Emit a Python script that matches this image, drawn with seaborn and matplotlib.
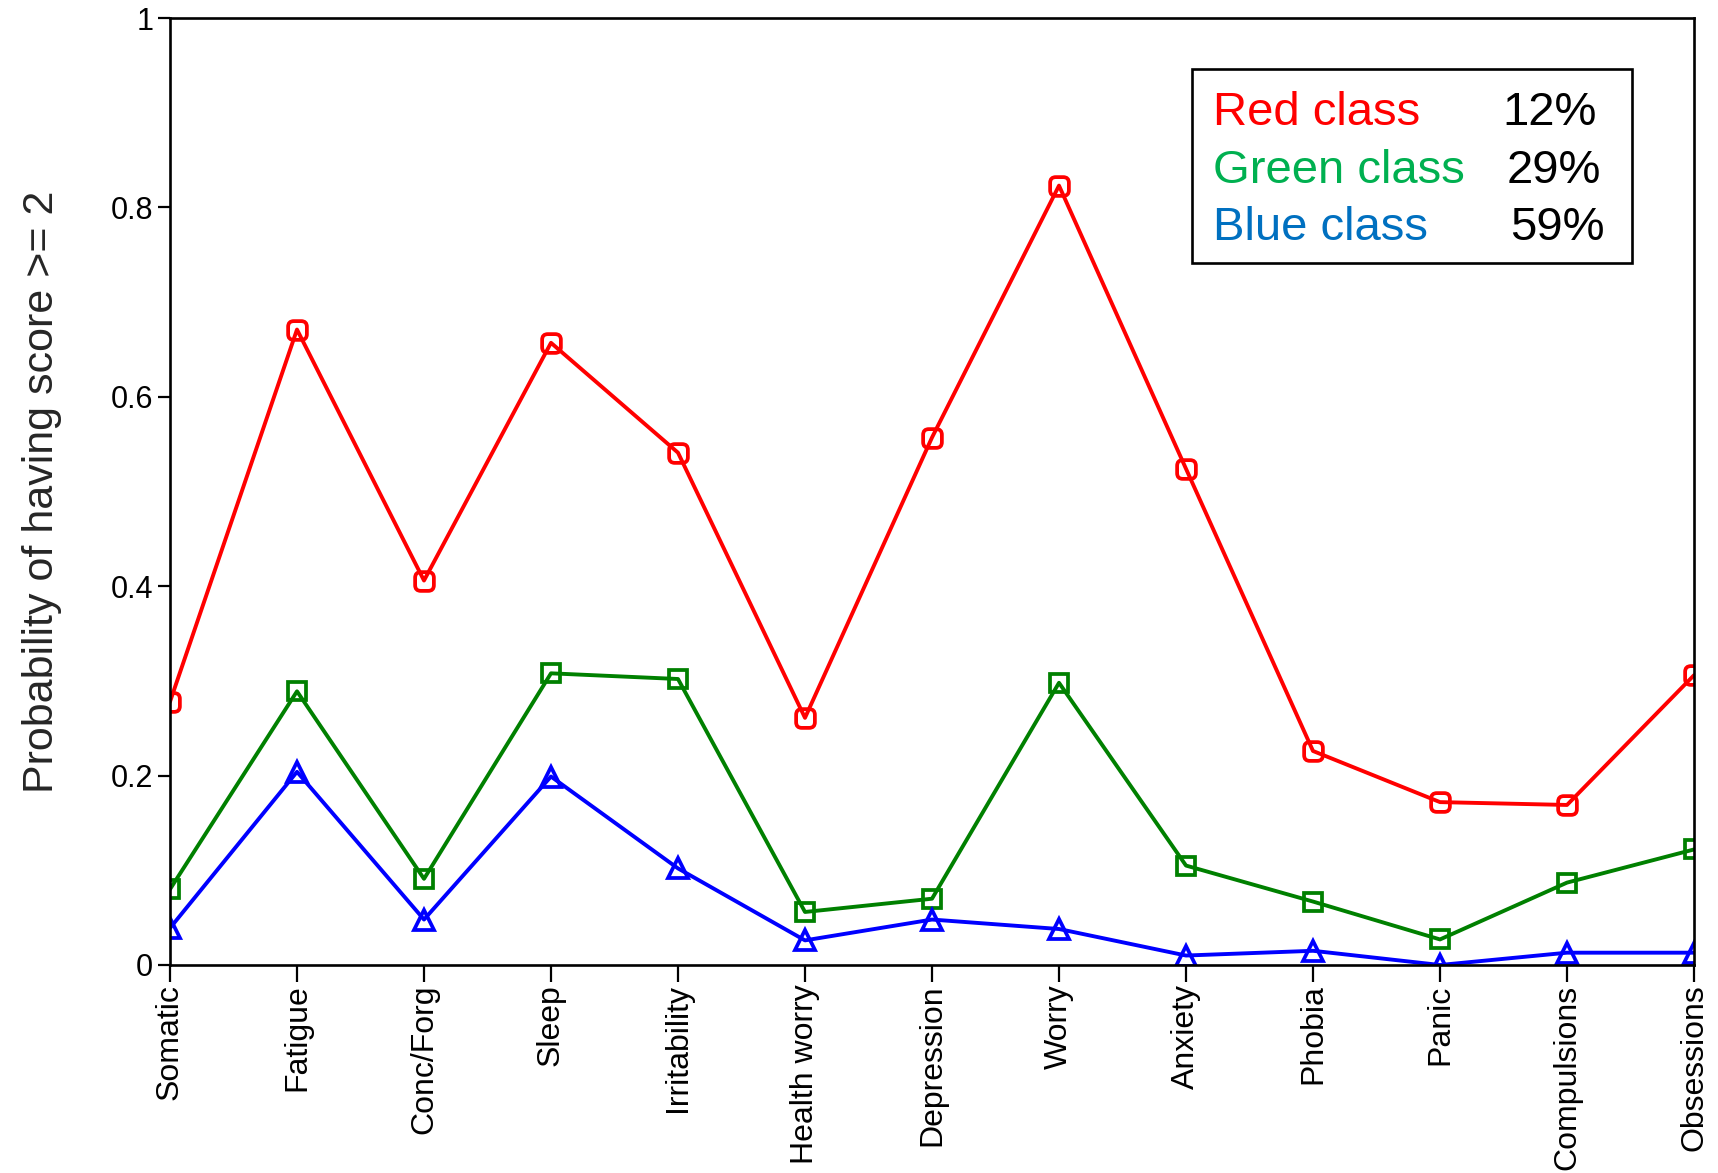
import matplotlib
matplotlib.use("Agg")
import numpy as np
import pandas as pd
import seaborn as sns
import matplotlib.pyplot as plt
from matplotlib.path import Path
from matplotlib.patches import Rectangle

# Symptom items on the x axis
items = ["Somatic", "Fatigue", "Conc/Forg", "Sleep", "Irritability", "Health worry",
         "Depression", "Worry", "Anxiety", "Phobia", "Panic", "Compulsions", "Obsessions"]

# Probability of scoring >= 2 for each latent class
red_vals = [0.278, 0.671, 0.406, 0.657, 0.541, 0.261, 0.557, 0.823, 0.524, 0.226, 0.172, 0.169, 0.306]
green_vals = [0.080, 0.289, 0.091, 0.308, 0.302, 0.056, 0.070, 0.298, 0.105, 0.067, 0.027, 0.087, 0.122]
blue_vals = [0.039, 0.204, 0.048, 0.199, 0.102, 0.026, 0.048, 0.038, 0.010, 0.015, 0.0, 0.013, 0.013]

class_names = ["Red class", "Green class", "Blue class"]
class_shares = ["12%", "29%", "59%"]
y_ticks = [0, 0.2, 0.4, 0.6, 0.8, 1]
y_tick_labels = ["0", "0.2", "0.4", "0.6", "0.8", "1"]

df = pd.DataFrame({
    "pos": list(range(len(items))) * 3,
    "prob": red_vals + green_vals + blue_vals,
    "cls": [c for c in class_names for _ in items],
})

sns.set_style("ticks")
plt.rcParams["font.family"] = ["Liberation Sans", "DejaVu Sans"]


def rounded_square(r=0.6):
    verts = [(-1 + r, -1), (1 - r, -1), (1, -1), (1, -1 + r), (1, 1 - r), (1, 1), (1 - r, 1),
             (-1 + r, 1), (-1, 1), (-1, 1 - r), (-1, -1 + r), (-1, -1), (-1 + r, -1), (-1 + r, -1)]
    codes = [Path.MOVETO, Path.LINETO, Path.CURVE3, Path.CURVE3, Path.LINETO, Path.CURVE3, Path.CURVE3,
             Path.LINETO, Path.CURVE3, Path.CURVE3, Path.LINETO, Path.CURVE3, Path.CURVE3, Path.CLOSEPOLY]
    return Path(verts, codes)


line_colors = {"Red class": "#ff0000", "Green class": "#008000", "Blue class": "#0000ff"}
text_colors = {"Red class": "#ff0000", "Green class": "#00b050", "Blue class": "#0070c0"}
markers = {"Red class": rounded_square(), "Green class": "s", "Blue class": "^"}
msizes = {"Red class": 13.5, "Green class": 13.5, "Blue class": 14.5}

fig = plt.figure(figsize=(17.18, 11.73), dpi=100)
ax = fig.add_axes([170 / 1718, 1 - 965 / 1173, 1524 / 1718, 947 / 1173])

for cls in class_names:
    sub = df[df["cls"] == cls]
    sns.lineplot(data=sub, x="pos", y="prob", ax=ax, color=line_colors[cls],
                 linewidth=2.8, marker=markers[cls], markersize=msizes[cls],
                 markerfacecolor="none", markeredgecolor=line_colors[cls],
                 markeredgewidth=2.7, legend=False, sort=False)

ax.set_xlim(0, len(items) - 1)
ax.set_ylim(0, 1)
ax.set_xticks(range(len(items)))
ax.set_xticklabels(items, rotation=90, fontsize=23, va="top")
ax.set_yticks(y_ticks)
ax.set_yticklabels(y_tick_labels, fontsize=22)
ax.tick_params(axis="x", length=12, width=1.6, pad=2, colors="black")
ax.tick_params(axis="y", length=8.6, width=1.6, pad=3.5, colors="black")
for s in ax.spines.values():
    s.set_visible(True)
    s.set_linewidth(1.9)
    s.set_color("black")

ax.set_xlabel("")
ax.set_ylabel("Probability of having score >= 2", fontsize=31)
ax.yaxis.set_label_coords(-0.071, 0.5)

# Class-size box
ax.add_patch(Rectangle((0.6706, 0.7413), 0.9593 - 0.6706, 0.9461 - 0.7413,
                       transform=ax.transAxes, fill=False, edgecolor="black",
                       linewidth=1.9, zorder=5))
name_y = [0.8870, 0.8258, 0.7656]
share_x = [0.9364, 0.9390, 0.9416]
for cls, share, yy, sx in zip(class_names, class_shares, name_y, share_x):
    ax.text(0.6844, yy, cls, transform=ax.transAxes, fontsize=34,
            color=text_colors[cls], ha="left", va="baseline", zorder=6)
    ax.text(sx, yy, share, transform=ax.transAxes, fontsize=34,
            color="black", ha="right", va="baseline", zorder=6)

fig.savefig("out.png", dpi=100)
